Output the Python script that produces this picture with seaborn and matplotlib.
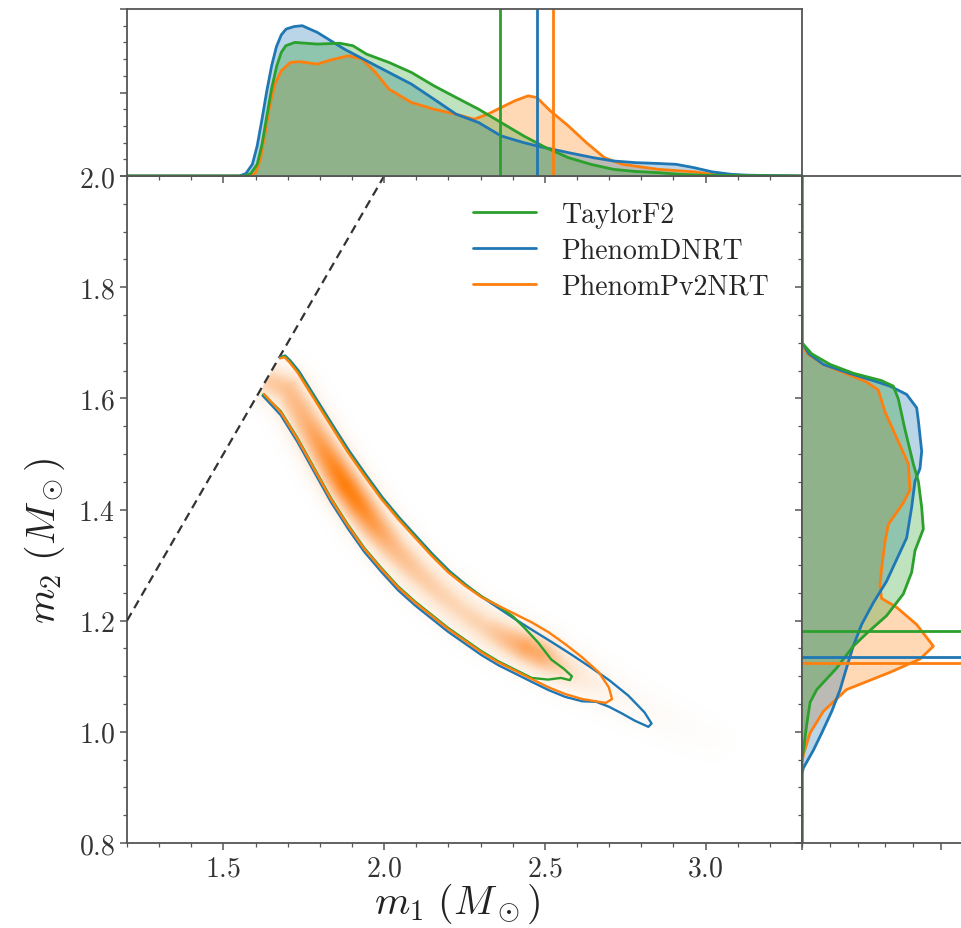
import numpy as np
import matplotlib
matplotlib.use("Agg")
import matplotlib.pyplot as plt
import seaborn as sns
from matplotlib.colors import LinearSegmentedColormap
from matplotlib.lines import Line2D
from matplotlib.ticker import MultipleLocator

sns.set_style("ticks")
plt.rcParams["font.family"] = ["cmr10", "DejaVu Serif"]
plt.rcParams["mathtext.fontset"] = "cm"
plt.rcParams["axes.formatter.use_mathtext"] = True

# ---------------------------------------------------------------- data
models = ["PhenomPv2NRT", "PhenomDNRT", "TaylorF2"]          # drawing order
legend_order = ["TaylorF2", "PhenomDNRT", "PhenomPv2NRT"]
palette = {"TaylorF2": "#2ca02c", "PhenomDNRT": "#1f77b4", "PhenomPv2NRT": "#ff7f0e"}

# marginal posterior density of m1
m1_tf2 = [1.20, 1.565, 1.585, 1.605, 1.62, 1.635, 1.65, 1.666, 1.68, 1.694, 1.722, 1.792,
          1.862, 1.903, 1.945, 2.015, 2.085, 2.155, 2.224, 2.294, 2.364, 2.434, 2.503,
          2.573, 2.643, 2.713, 2.78, 2.852, 2.92, 2.99, 3.30]
p1_tf2 = [0.0, 0.0, 0.03, 0.14, 0.38, 0.72, 1.05, 1.32, 1.48, 1.56, 1.60, 1.58,
          1.59, 1.56, 1.46, 1.36, 1.24, 1.08, 0.94, 0.80, 0.64, 0.48, 0.34,
          0.22, 0.14, 0.08, 0.055, 0.04, 0.02, 0.01, 0.0]

m1_dnrt = [1.20, 1.55, 1.57, 1.59, 1.605, 1.62, 1.635, 1.65, 1.665, 1.68, 1.695, 1.72,
           1.745, 1.792, 1.876, 1.945, 2.015, 2.085, 2.155, 2.224, 2.294, 2.364, 2.434,
           2.475, 2.573, 2.65, 2.713, 2.782, 2.852, 2.908, 2.964, 3.02, 3.08, 3.13, 3.30]
p1_dnrt = [0.0, 0.0, 0.03, 0.14, 0.36, 0.68, 1.02, 1.32, 1.55, 1.69, 1.76, 1.79,
           1.80, 1.72, 1.52, 1.38, 1.24, 1.10, 0.92, 0.74, 0.64, 0.48, 0.40,
           0.36, 0.28, 0.22, 0.18, 0.16, 0.15, 0.14, 0.10, 0.05, 0.02, 0.01, 0.0]

m1_pv2 = [1.20, 1.58, 1.60, 1.615, 1.63, 1.645, 1.66, 1.68, 1.708, 1.736, 1.792, 1.834,
          1.889, 1.931, 1.973, 2.015, 2.085, 2.155, 2.224, 2.280, 2.322, 2.364, 2.406,
          2.448, 2.475, 2.517, 2.573, 2.629, 2.685, 2.741, 2.852, 2.964, 3.02, 3.10, 3.30]
p1_pv2 = [0.0, 0.0, 0.04, 0.20, 0.52, 0.86, 1.10, 1.26, 1.36, 1.37, 1.34, 1.39,
          1.44, 1.40, 1.24, 1.04, 0.88, 0.80, 0.74, 0.68, 0.74, 0.82, 0.90,
          0.96, 0.94, 0.78, 0.60, 0.40, 0.22, 0.14, 0.08, 0.05, 0.02, 0.005, 0.0]

# marginal posterior density of m2
m2_tf2 = [0.80, 0.95, 0.967, 1.013, 1.053, 1.076, 1.115, 1.154, 1.177, 1.209, 1.248, 1.287,
          1.326, 1.365, 1.404, 1.451, 1.482, 1.544, 1.599, 1.622, 1.632, 1.645, 1.661,
          1.68, 1.700, 2.00]
p2_tf2 = [0.0, 0.0, 0.05, 0.17, 0.29, 0.53, 1.25, 1.84, 2.32, 3.04, 3.64, 3.94,
          4.06, 4.36, 4.30, 4.18, 4.00, 3.70, 3.46, 3.28, 2.85, 1.85, 1.01,
          0.35, 0.0, 0.0]

m2_dnrt = [0.80, 0.925, 0.935, 0.967, 0.998, 1.037, 1.076, 1.115, 1.154, 1.193, 1.232, 1.271,
           1.310, 1.349, 1.404, 1.451, 1.474, 1.505, 1.560, 1.583, 1.607, 1.622, 1.632,
           1.645, 1.661, 1.68, 1.700, 2.00]
p2_dnrt = [0.0, 0.0, 0.05, 0.41, 0.71, 1.07, 1.37, 1.60, 1.84, 2.14, 2.56, 3.04,
           3.40, 3.76, 3.94, 4.06, 4.24, 4.30, 4.18, 4.12, 3.76, 3.16, 2.55,
           1.70, 0.77, 0.25, 0.0, 0.0]

m2_pv2 = [0.80, 0.945, 0.959, 0.998, 1.037, 1.076, 1.107, 1.131, 1.154, 1.193, 1.224, 1.240,
          1.263, 1.294, 1.341, 1.373, 1.412, 1.435, 1.482, 1.529, 1.576, 1.615, 1.630,
          1.645, 1.661, 1.678, 1.693, 2.00]
p2_pv2 = [0.0, 0.0, 0.05, 0.29, 0.77, 1.60, 3.16, 4.24, 4.72, 4.12, 3.40, 2.86,
          2.80, 2.86, 2.98, 3.10, 3.64, 3.88, 3.82, 3.40, 2.98, 2.74, 2.30,
          1.55, 0.77, 0.25, 0.0, 0.0]

# 90% bounds
m1_limit = {"TaylorF2": 2.36, "PhenomDNRT": 2.475, "PhenomPv2NRT": 2.525}
m2_limit = {"TaylorF2": 1.181, "PhenomDNRT": 1.135, "PhenomPv2NRT": 1.124}

# 90% credible contours in the (m1, m2) plane
c_m1_pv2 = [1.676, 1.690, 1.705, 1.730, 1.782, 1.834, 1.887, 1.938, 1.991, 2.043, 2.095,
            2.147, 2.199, 2.251, 2.303, 2.355, 2.407, 2.459, 2.512, 2.563, 2.616, 2.668,
            2.699, 2.709, 2.689, 2.616, 2.563, 2.512, 2.459, 2.407, 2.355, 2.303, 2.251,
            2.199, 2.147, 2.095, 2.043, 1.991, 1.938, 1.887, 1.834, 1.782, 1.730, 1.678, 1.626]
c_m2_pv2 = [1.672, 1.674, 1.665, 1.647, 1.599, 1.551, 1.503, 1.461, 1.419, 1.383, 1.350,
            1.317, 1.287, 1.263, 1.242, 1.227, 1.212, 1.197, 1.179, 1.158, 1.134, 1.107,
            1.080, 1.059, 1.052, 1.059, 1.068, 1.080, 1.095, 1.110, 1.125, 1.143, 1.164,
            1.185, 1.209, 1.233, 1.260, 1.293, 1.329, 1.371, 1.419, 1.473, 1.527, 1.575, 1.608]

c_m1_dnrt = [1.676, 1.692, 1.708, 1.735, 1.787, 1.839, 1.892, 1.943, 1.996, 2.048, 2.100,
             2.152, 2.204, 2.256, 2.308, 2.360, 2.412, 2.464, 2.520, 2.580, 2.640, 2.700,
             2.760, 2.810, 2.832, 2.822, 2.780, 2.740, 2.700, 2.660, 2.616, 2.563, 2.512,
             2.459, 2.407, 2.355, 2.303, 2.251, 2.199, 2.147, 2.095, 2.043, 1.991, 1.938,
             1.887, 1.834, 1.782, 1.730, 1.678, 1.622]
c_m2_dnrt = [1.674, 1.677, 1.668, 1.649, 1.601, 1.553, 1.505, 1.463, 1.421, 1.385, 1.352,
             1.319, 1.289, 1.264, 1.241, 1.221, 1.201, 1.182, 1.162, 1.140, 1.117, 1.093,
             1.065, 1.035, 1.015, 1.009, 1.020, 1.033, 1.045, 1.054, 1.055, 1.063, 1.075,
             1.090, 1.105, 1.120, 1.138, 1.159, 1.180, 1.204, 1.228, 1.255, 1.288, 1.324,
             1.366, 1.414, 1.468, 1.522, 1.570, 1.605]

c_m1_tf2 = [1.676, 1.691, 1.706, 1.732, 1.784, 1.836, 1.889, 1.940, 1.993, 2.045, 2.097,
            2.149, 2.201, 2.253, 2.305, 2.357, 2.400, 2.440, 2.480, 2.520, 2.560, 2.584,
            2.578, 2.550, 2.510, 2.459, 2.407, 2.355, 2.303, 2.251, 2.199, 2.147, 2.095,
            2.043, 1.991, 1.938, 1.887, 1.834, 1.782, 1.730, 1.678, 1.624]
c_m2_tf2 = [1.673, 1.676, 1.667, 1.648, 1.600, 1.552, 1.504, 1.462, 1.420, 1.384, 1.351,
            1.318, 1.288, 1.264, 1.243, 1.226, 1.208, 1.185, 1.160, 1.130, 1.113, 1.100,
            1.093, 1.097, 1.094, 1.097, 1.112, 1.127, 1.145, 1.166, 1.187, 1.211, 1.235,
            1.262, 1.295, 1.331, 1.373, 1.421, 1.475, 1.529, 1.577, 1.607]

# ridge of the PhenomPv2NRT 2D posterior density
ridge_m1 = [1.645, 1.70, 1.75, 1.80, 1.85, 1.88, 1.92, 1.97, 2.03, 2.10, 2.17, 2.24,
            2.31, 2.38, 2.44, 2.49, 2.55, 2.62, 2.70, 2.80, 2.92, 3.02]
ridge_m2 = [1.630, 1.616, 1.567, 1.518, 1.470, 1.443, 1.410, 1.371, 1.330, 1.288, 1.251, 1.218,
            1.190, 1.168, 1.152, 1.137, 1.117, 1.095, 1.070, 1.040, 1.010, 0.985]
ridge_level = [0.50, 0.58, 0.66, 0.80, 0.95, 1.00, 0.95, 0.80, 0.62, 0.52, 0.46, 0.43,
               0.46, 0.60, 0.75, 0.70, 0.45, 0.25, 0.12, 0.06, 0.035, 0.02]

marg1 = {"TaylorF2": (m1_tf2, p1_tf2), "PhenomDNRT": (m1_dnrt, p1_dnrt),
         "PhenomPv2NRT": (m1_pv2, p1_pv2)}
marg2 = {"TaylorF2": (m2_tf2, p2_tf2), "PhenomDNRT": (m2_dnrt, p2_dnrt),
         "PhenomPv2NRT": (m2_pv2, p2_pv2)}
contours = {"TaylorF2": (c_m1_tf2, c_m2_tf2), "PhenomDNRT": (c_m1_dnrt, c_m2_dnrt),
            "PhenomPv2NRT": (c_m1_pv2, c_m2_pv2)}

# ---------------------------------------------------------------- layout
W, H = 962, 929
fig = plt.figure(figsize=(W / 100, H / 100), dpi=100)
x0, x1 = 127 / W, 802 / W
y0, y1 = (H - 844) / H, (H - 177) / H
ytop = (H - 10) / H
ax = fig.add_axes([x0, y0, x1 - x0, y1 - y0])
ax_top = fig.add_axes([x0, y1, x1 - x0, ytop - y1], sharex=ax)
ax_right = fig.add_axes([x1, y0, 167 / W, y1 - y0], sharey=ax)

XLIM, YLIM = (1.2, 3.3), (0.8, 2.0)
ax.set_xlim(*XLIM)
ax.set_ylim(*YLIM)
ax_top.set_ylim(0, 2.0)
ax_right.set_xlim(0, 6)

# ---------------------------------------------------------------- 2D density shading
gx = np.linspace(XLIM[0], XLIM[1], 700)
gy = np.linspace(YLIM[0], YLIM[1], 460)
GX, GY = np.meshgrid(gx, gy)
sx, sy = 675 / (XLIM[1] - XLIM[0]), 667 / (YLIM[1] - YLIM[0])   # px per unit
PX, PY = GX * sx, GY * sy
rx, ry = np.array(ridge_m1) * sx, np.array(ridge_m2) * sy
lv = np.array(ridge_level)
field = np.zeros_like(GX)
sigma = 13.0
for i in range(len(rx) - 1):
    dx, dy = rx[i + 1] - rx[i], ry[i + 1] - ry[i]
    t = np.clip(((PX - rx[i]) * dx + (PY - ry[i]) * dy) / (dx * dx + dy * dy), 0, 1)
    d2 = (PX - rx[i] - t * dx) ** 2 + (PY - ry[i] - t * dy) ** 2
    val = (lv[i] + t * (lv[i + 1] - lv[i])) * np.exp(-d2 / (2 * sigma ** 2))
    field = np.maximum(field, val)
field[GY > GX] = 0.0
cmap = LinearSegmentedColormap.from_list("pv2", ["#ffffff", "#fde6d0", "#fdb47a", "#ff7f0e"])
ax.imshow(field, extent=[*XLIM, *YLIM], origin="lower", aspect="auto",
          cmap=cmap, vmin=0, vmax=1, interpolation="bilinear", zorder=0)

# equal-mass boundary
ax.plot([1.2, 2.0], [1.2, 2.0], ls=(0, (4, 2.5)), color="#333333", lw=1.6, zorder=3)

# contours
for m in ["PhenomDNRT", "TaylorF2", "PhenomPv2NRT"]:
    cx, cy = contours[m]
    sns.lineplot(x=cx, y=cy, sort=False, estimator=None, ax=ax,
                 color=palette[m], lw=1.7, zorder=4)

# ---------------------------------------------------------------- marginals
for m in models:
    xs, ps = marg1[m]
    ax_top.fill_between(xs, 0, ps, color=palette[m], alpha=0.3, lw=0)
    sns.lineplot(x=xs, y=ps, sort=False, estimator=None, ax=ax_top,
                 color=palette[m], lw=2.0)
    ys, qs = marg2[m]
    ax_right.fill_betweenx(ys, 0, qs, color=palette[m], alpha=0.3, lw=0)
    sns.lineplot(x=qs, y=ys, sort=False, estimator=None, ax=ax_right,
                 color=palette[m], lw=2.0)

for m in legend_order:
    ax_top.axvline(m1_limit[m], color=palette[m], lw=2.0)
    ax_right.axhline(m2_limit[m], color=palette[m], lw=2.0)

# ---------------------------------------------------------------- axes styling
spine_c = "#555555"
for a in (ax, ax_top, ax_right):
    for s in a.spines.values():
        s.set_color(spine_c)
        s.set_linewidth(1.3)
    a.tick_params(which="both", direction="out", color=spine_c, labelcolor="#333333")
    a.tick_params(which="major", length=5, width=1.1)
    a.tick_params(which="minor", length=2.8, width=0.9)
    a.set_xlabel("")
    a.set_ylabel("")

ax.xaxis.set_major_locator(MultipleLocator(0.5))
ax.xaxis.set_minor_locator(MultipleLocator(0.1))
ax.yaxis.set_major_locator(MultipleLocator(0.2))
ax.yaxis.set_minor_locator(MultipleLocator(0.05))
ax.tick_params(labelsize=20)

ax_top.yaxis.set_major_locator(MultipleLocator(1.0))
ax_top.yaxis.set_minor_locator(MultipleLocator(0.2))
ax_top.tick_params(labelbottom=False, labelleft=False)
ax_right.xaxis.set_major_locator(MultipleLocator(5))
ax_right.xaxis.set_minor_locator(MultipleLocator(1))
ax_right.tick_params(labelbottom=False, labelleft=False)

ax.set_xlabel(r"$m_1\ (M_\odot)$", fontsize=29, color="#222222", va="center")
ax.set_ylabel(r"$m_2\ (M_\odot)$", fontsize=29, color="#222222", va="center")
ax.xaxis.set_label_coords(0.49, -0.089)
ax.yaxis.set_label_coords(-0.121, 0.455)

handles = [Line2D([], [], color=palette[m], lw=2.0) for m in legend_order]
ax.legend(handles, legend_order, loc="upper left", bbox_to_anchor=(0.512, 0.962),
          frameon=False, fontsize=20, handlelength=2.3, handletextpad=0.9,
          labelspacing=0.35, borderpad=0, borderaxespad=0)

fig.savefig("out.png", dpi=100)
